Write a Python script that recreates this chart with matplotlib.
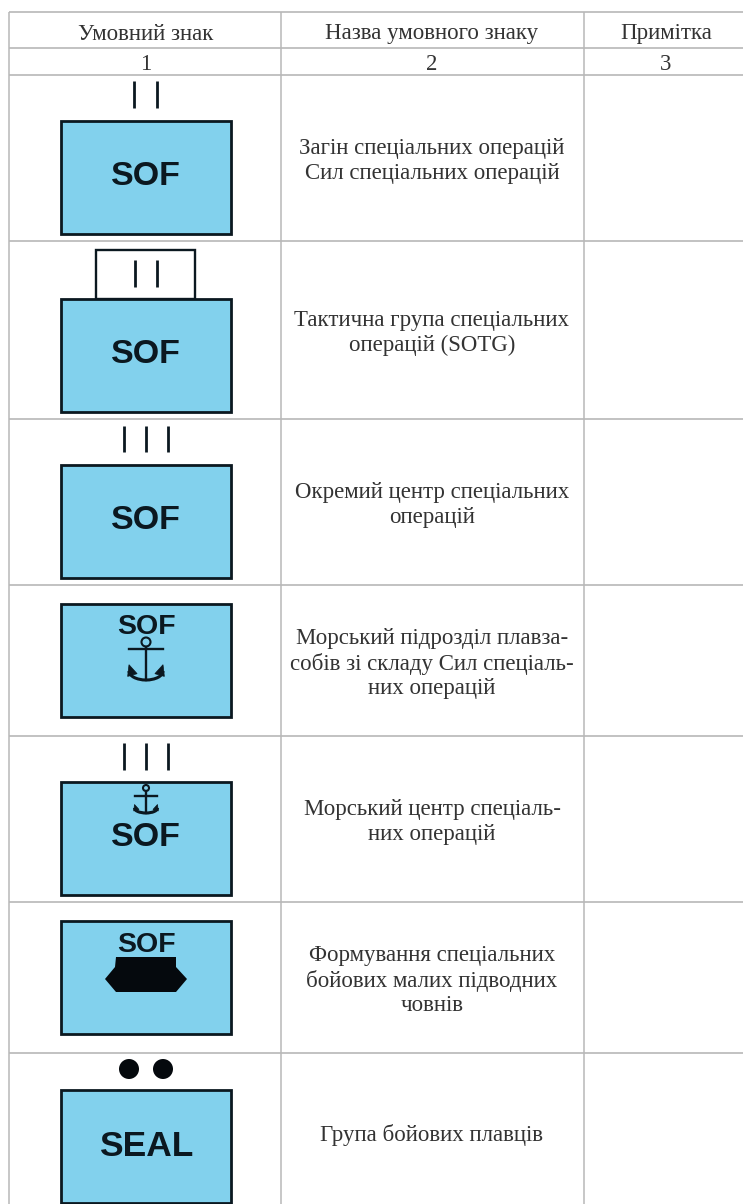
import matplotlib.pyplot as plt
from matplotlib.patches import Rectangle, Polygon, Circle, Arc

plt.rcParams["font.family"] = ["Liberation Serif", "DejaVu Serif"]

headers = ["Умовний знак", "Назва умовного знаку", "Примітка"]
numbers = ["1", "2", "3"]
names = [
    "Загін спеціальних операцій\nСил спеціальних операцій",
    "Тактична група спеціальних\nоперацій (SOTG)",
    "Окремий центр спеціальних\nоперацій",
    "Морський підрозділ плавза-\nсобів зі складу Сил спеціаль-\nних операцій",
    "Морський центр спеціаль-\nних операцій",
    "Формування спеціальних\nбойових малих підводних\nчовнів",
    "Група бойових плавців",
]
sign_labels = ["SOF", "SOF", "SOF", "SOF", "SOF", "SOF", "SEAL"]

# table layout in pixels, the last row runs off the page
col_lines = [9, 281, 584]
col_centers = [146, 432, 666]
row_lines = [12, 47.5, 75, 241, 419, 585, 736, 902, 1053, 1210]
box_left, box_right = 61, 231
box_tops = [121, 299, 465, 604, 782, 921, 1090]
label_y = [173, 351, 517, 624, 834, 942, 1143]
label_size = [24.5, 24.5, 24.5, 20.5, 24.5, 20.5, 25.5]

BLUE = "#82d1ed"
INK = "#0b1820"
GRID = "#b8b8b8"
TEXT = "#333333"

fig = plt.figure(figsize=(7.43, 12.04), dpi=100)
ax = fig.add_axes([0, 0, 1, 1])
ax.set_xlim(0, 743)
ax.set_ylim(1204, 0)
ax.axis("off")

ax.hlines(row_lines[:-1], col_lines[0], 743, color=GRID, lw=1.2)
ax.vlines(col_lines, row_lines[0], 1204, color=GRID, lw=1.1)

for x, h, n in zip(col_centers, headers, numbers):
    ax.text(x, 34, h, ha="center", va="center", fontsize=16.5, color=TEXT)
    ax.text(x, 64, n, ha="center", va="center", fontsize=16.5, color=TEXT)

for i, name in enumerate(names):
    yc = (row_lines[i + 2] + row_lines[i + 3]) / 2 + 3
    ax.text(col_centers[1], yc, name, ha="center", va="center", fontsize=16.5,
            color=TEXT, linespacing=1.2)


def ticks(xs, y0, y1):
    ax.vlines(xs, y0, y1, color=INK, lw=2.0, zorder=4)


def anchor(cx, ring_y, ring_r, bar_y, half_bar, bottom, half_arm, depth):
    ax.add_patch(Circle((cx, ring_y), ring_r, fc="none", ec=INK, lw=1.5, zorder=4))
    ax.plot([cx - half_bar, cx + half_bar], [bar_y, bar_y], color=INK, lw=1.7, zorder=4)
    ax.plot([cx, cx], [ring_y + ring_r, bottom], color=INK, lw=1.7, zorder=4)
    ax.add_patch(Arc((cx, bottom - depth), 2 * half_arm, 2 * depth, theta1=0, theta2=180,
                     color=INK, lw=2.2, zorder=4))
    for side in (-1, 1):
        ax.add_patch(Polygon([(cx + side * half_arm, bottom - 1.7 * depth),
                              (cx + side * (half_arm + 0.15 * depth), bottom - 0.4 * depth),
                              (cx + side * (half_arm - 0.9 * depth), bottom - 0.7 * depth)],
                             fc=INK, ec=INK, lw=0.5, zorder=4))


for top, lab, ly, fs in zip(box_tops, sign_labels, label_y, label_size):
    ax.add_patch(Rectangle((box_left, top), box_right - box_left, 113, fc=BLUE, ec=INK, lw=2.0, zorder=2))
    ax.text(146, ly, lab, ha="center", va="center_baseline", fontsize=fs, fontweight="bold",
            family="Liberation Sans", color=INK, zorder=3)

ticks([134, 157], 81, 108)
ax.add_patch(Rectangle((96, 250), 99, 49, fc="white", ec=INK, lw=1.7))
ticks([135, 157], 260, 287)
ticks([124, 146, 168], 426, 452)
ticks([124, 146, 168], 743, 770)

anchor(146, 642, 4.5, 649, 17, 680, 17, 9)
anchor(146, 788, 3, 796, 11, 813, 11.5, 5)

# submarine outline
ax.add_patch(Polygon([(116, 957), (176, 957), (176, 967), (187, 979), (176, 992),
                      (116, 992), (105, 979), (115, 967)],
                     fc="#05090d", ec="none", zorder=4))

for x in (129, 163):
    ax.add_patch(Circle((x, 1069), 10, fc="#05090d", ec="none"))

fig.savefig("out.png", dpi=100)
